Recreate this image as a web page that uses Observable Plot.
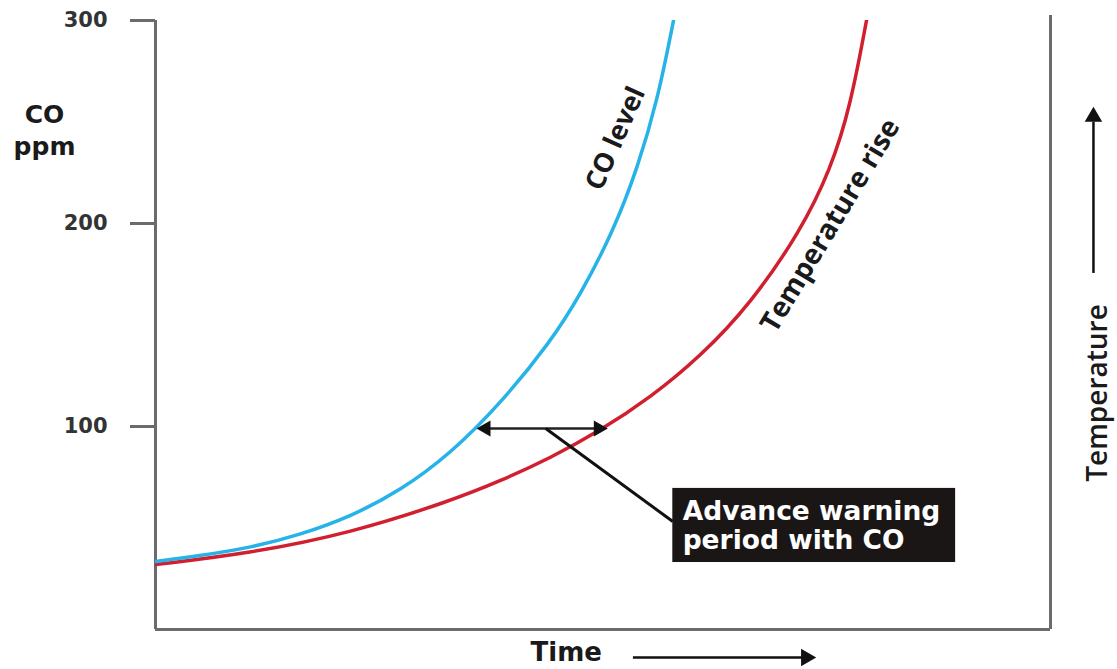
<!DOCTYPE html>
<html>
<head>
<meta charset="utf-8">
<script src="https://cdn.jsdelivr.net/npm/d3@7"></script>
<script src="https://cdn.jsdelivr.net/npm/@observablehq/plot@0.6"></script>
<style>
  html, body { margin: 0; padding: 0; background: #fff; }
  #chart svg { display: block; }
</style>
</head>
<body>
<div id="chart"></div>
<script>
// ---- data (time in arbitrary units, CO in ppm) ----
const coTime   = [0, 5.03, 10.61, 16.2, 21.79, 27.37, 32.96, 38.55, 44.13, 47.49, 51.17, 53.85, 56.09, 57.88];
const coPpm    = [33.5, 36.4, 40.3, 46.7, 55.6, 68.4, 86.6, 111.3, 141.6, 165.0, 196.4, 227.2, 260.6, 300];
const tempTime = [0, 10.61, 21.79, 32.96, 38.55, 44.13, 49.72, 55.31, 60.89, 66.48, 72.07, 75.42, 77.65, 79.44];
const tempRise = [32.0, 37.6, 47.5, 63.3, 73.2, 84.5, 98.0, 114.3, 134.5, 160.4, 196.2, 226.5, 257.8, 300];
const yTicks   = [100, 200, 300];
const seriesLabels = ["CO level", "Temperature rise"];
const warningText  = "Advance warning\nperiod with CO";
const axisTitles   = {y: "CO\nppm", x: "Time", right: "Temperature"};
// warning period: from CO curve to temperature curve at the 100 ppm level
const warningFrom = 35.9, warningTo = 50.5, warningLevel = 99;

const coData   = coTime.map((t, i) => ({t, v: coPpm[i]}));
const tempData = tempTime.map((t, i) => ({t, v: tempRise[i]}));

const AXIS = "#6b6b6b";
const BLUE = "#25b3e8";
const RED  = "#d21f2f";
const BOLD = {fontFamily: "DejaVu Sans", fontWeight: "bold"};

const chart = Plot.plot({
  width: 1117,
  height: 669,
  marginLeft: 155,
  marginRight: 67,
  marginTop: 20,
  marginBottom: 40,
  x: {domain: [0, 100], axis: null},
  y: {domain: [0, 300], axis: null},
  marks: [
    // frame lines
    Plot.ruleX([0], {y1: 0, y2: 300, stroke: AXIS, strokeWidth: 3}),
    Plot.ruleX([100], {y1: 0, y2: 302.5, stroke: AXIS, strokeWidth: 3}),
    Plot.ruleY([0], {x1: 0, x2: 100, stroke: AXIS, strokeWidth: 3}),
    Plot.axisY(yTicks, {
      tickSize: 25, tickPadding: 23, stroke: AXIS, strokeWidth: 3,
      fontSize: 21, ...BOLD, fill: "#333", label: null
    }),
    // curves
    Plot.line(tempData, {x: "t", y: "v", curve: "basis", stroke: RED, strokeWidth: 3.5, clip: true}),
    Plot.line(coData, {x: "t", y: "v", curve: "basis", stroke: BLUE, strokeWidth: 3.5, clip: true}),
    // curve labels
    Plot.text([seriesLabels[0]], {x: 51.4, y: 241.9, text: d => d, rotate: -66,
      fontFamily: "Open Sans", fontWeight: "bold", fontSize: 27, fill: "#1a1a1a"}),
    Plot.text([seriesLabels[1]], {x: 75.4, y: 199, text: d => d, rotate: -59,
      fontFamily: "Open Sans", fontWeight: "bold", fontSize: 28, fill: "#1a1a1a"}),
    // warning double arrow
    Plot.ruleY([warningLevel], {x1: warningFrom + 1, x2: warningTo - 1, stroke: "#222", strokeWidth: 2.5}),
    Plot.dot([warningFrom], {x: d => d, y: warningLevel, symbol: "triangle", r: 6, rotate: -90, dx: 9, fill: "#111", stroke: null}),
    Plot.dot([warningTo], {x: d => d, y: warningLevel, symbol: "triangle", r: 6, rotate: 90, dx: -9, fill: "#111", stroke: null}),
    // leader line to box
    Plot.link([0], {x1: 43.6, y1: warningLevel, x2: 57.8, y2: 53.2, stroke: "#111", strokeWidth: 3}),
    Plot.rect([0], {x1: 57.8, x2: 89.4, y1: 33, y2: 69.5, fill: "#1b1616"}),
    Plot.text([warningText], {x: 58.9, y: 51.2, text: d => d, textAnchor: "start", lineHeight: 1.08,
      fontSize: 26.5, ...BOLD, fill: "#fff"}),
    // left axis title
    Plot.text([axisTitles.y], {x: -12.4, y: 246.5, text: d => d, lineHeight: 1.28,
      fontSize: 25, ...BOLD, fill: "#1a1a1a"}),
    // bottom axis title and arrow
    Plot.text([axisTitles.x], {x: 45.9, y: -11.3, text: d => d, fontSize: 26, ...BOLD, fill: "#1a1a1a"}),
    Plot.ruleY([-13.8], {x1: 53.4, x2: 72.5, stroke: "#111", strokeWidth: 2.5}),
    Plot.dot([73.7], {x: d => d, y: -13.8, symbol: "triangle", r: 6.5, rotate: 90, dx: -9, fill: "#111", stroke: null}),
    // right axis title and arrow
    Plot.text([axisTitles.right], {x: 105.3, y: 116.5, text: d => d, rotate: -90,
      fontFamily: "Open Sans", fontWeight: 600, fontSize: 28, fill: "#1a1a1a"}),
    Plot.ruleX([104.8], {y1: 175.4, y2: 250, stroke: "#111", strokeWidth: 2.5}),
    Plot.dot([257], {x: 104.8, y: d => d, symbol: "triangle", r: 6.5, rotate: 0, dy: 9, fill: "#111", stroke: null})
  ]
});
document.getElementById("chart").appendChild(chart);
</script>
</body>
</html>
